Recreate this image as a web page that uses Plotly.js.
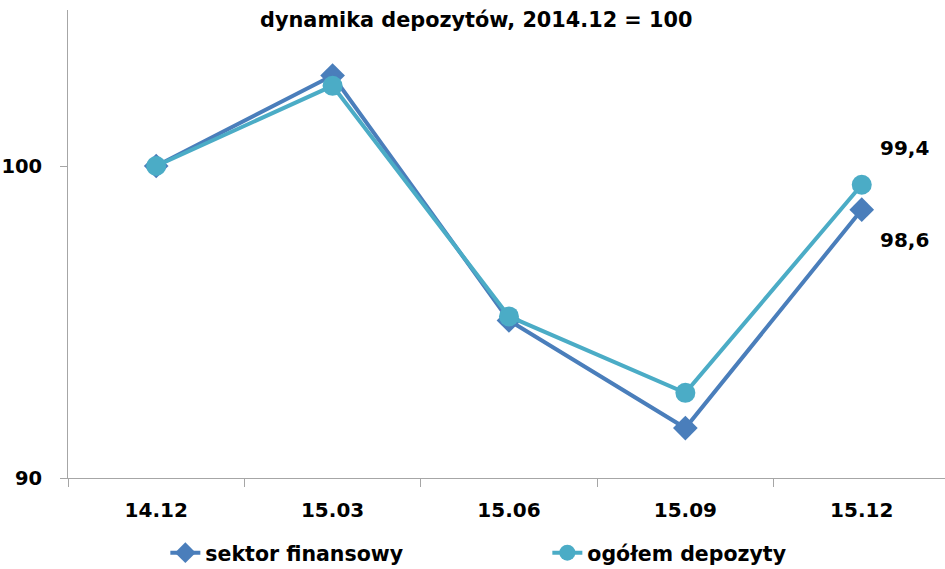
<!DOCTYPE html>
<html><head><meta charset="utf-8">
<script src="https://cdn.plot.ly/plotly-3.0.1.min.js"></script>
<style>html,body{margin:0;padding:0;background:#fff}#c{width:945px;height:569px}</style>
</head><body><div id="c"></div>
<script>
const categories = ['14.12','15.03','15.06','15.09','15.12'];
const sektorFinansowy = [100, 102.9, 95.05, 91.6, 98.6];
const ogolemDepozyty = [100, 102.57, 95.18, 92.73, 99.4];
const yTicks = [90, 100];

const F = 'DejaVu Sans, Verdana, sans-serif';
const fmt = v => v.toFixed(1).replace('.', ',');
const last = categories.length - 1;

const traces = [
  {x: categories, y: sektorFinansowy, name: 'sektor finansowy', type: 'scatter', mode: 'lines+markers',
   line: {color: '#4A7EBB', width: 4}, marker: {symbol: 'diamond', size: 19, color: '#4A7EBB'}},
  {x: categories, y: ogolemDepozyty, name: 'ogółem depozyty', type: 'scatter', mode: 'lines+markers',
   line: {color: '#4BACC6', width: 4}, marker: {symbol: 'circle', size: 20, color: '#4BACC6'}}
];

const layout = {
  width: 945, height: 569,
  margin: {l: 68, r: 0, t: 10, b: 91, autoexpand: false},
  paper_bgcolor: '#fff', plot_bgcolor: '#fff',
  font: {family: F, color: '#000', size: 18, weight: 'bold'},
  title: {text: '<b>dynamika depozytów, 2014.12 = 100</b>', font: {family: F, size: 20.8, color: '#000'},
          x: 0.504, xref: 'container', xanchor: 'center', y: 0.965, yref: 'container', yanchor: 'middle'},
  xaxis: {type: 'category', range: [-0.5, 4.472], showgrid: false, zeroline: false,
          showline: true, linecolor: '#A6A6A6', linewidth: 1,
          ticks: 'outside', ticklen: 8, tickcolor: '#A6A6A6', tickson: 'boundaries',
          tickfont: {family: F, size: 20, weight: 'bold', color: '#000'}, ticklabelstandoff: 14},
  yaxis: {range: [90, 105], tickvals: yTicks, ticktext: yTicks.map(String), showgrid: false, zeroline: false,
          showline: true, linecolor: '#A6A6A6', linewidth: 1,
          ticks: 'outside', ticklen: 7, tickcolor: '#A6A6A6',
          tickfont: {family: F, size: 19.5, weight: 'bold', color: '#000'}, ticklabelstandoff: 14},
  legend: {orientation: 'h', x: 0.111, xanchor: 'left', y: -0.16, yanchor: 'middle',
           font: {family: F, size: 20.5, weight: 'bold', color: '#000'}, entrywidth: 337, itemwidth: 30,
           bgcolor: 'rgba(0,0,0,0)'},
  showlegend: true,
  annotations: [
    {x: last, y: ogolemDepozyty[last], xref: 'x', yref: 'y', text: '<b>' + fmt(ogolemDepozyty[last]) + '</b>',
     showarrow: false, xshift: 43, yshift: 37, font: {family: F, size: 20, color: '#000'}},
    {x: last, y: sektorFinansowy[last], xref: 'x', yref: 'y', text: '<b>' + fmt(sektorFinansowy[last]) + '</b>',
     showarrow: false, xshift: 43, yshift: -30, font: {family: F, size: 20, color: '#000'}}
  ]
};
Plotly.newPlot('c', traces, layout, {displayModeBar: false, staticPlot: true});
</script></body></html>
